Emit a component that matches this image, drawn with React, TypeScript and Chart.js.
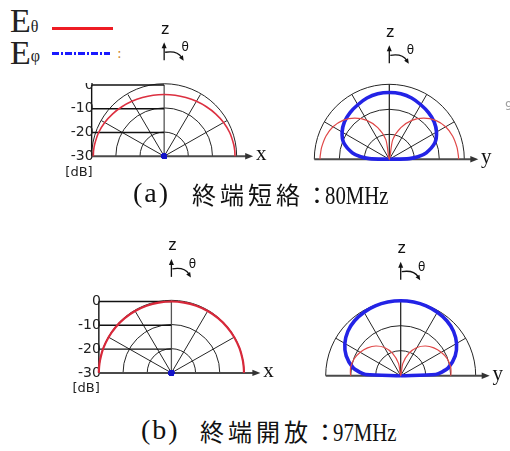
import React, { useEffect, useRef } from "react";
import { Chart, registerables } from "chart.js";

Chart.register(...registerables);

// ---------- DATA ----------
// angle measured from the +z axis (degrees); negative = toward -x / -y
const ANGLES = [-90, -88, -85, -80, -70, -60, -50, -40, -30, -20, -10, 0, 10, 20, 30, 40, 50, 60, 70, 80, 85, 88, 90];

// dB scale of the polar plots
const DB_MIN = -30;
const DB_MAX = 0;
const RING_DB = [-20, -10, 0];
const SPOKE_DEG = [-60, -30, 30, 60];
const DB_TICKS = [0, -10, -20, -30];
const DB_TICK_LABELS = ["0", "-10", "-20", "-30"];

// (a) 終端短絡 80MHz
const A_XZ_ETHETA = [-0.7, -0.7, -0.7, -0.8, -1.1, -1.6, -2.2, -2.8, -3.3, -3.7, -3.9, -4.0, -3.9, -3.7, -3.3, -2.8, -2.2, -1.6, -1.1, -0.8, -0.7, -0.7, -0.7];
const A_XZ_EPHI = [-30, -30, -30, -30, -30, -30, -30, -30, -30, -30, -30, -30, -30, -30, -30, -30, -30, -30, -30, -30, -30, -30, -30];
const A_YZ_ETHETA = [-2.3, -2.3, -2.4, -2.5, -3.0, -4.0, -5.8, -8.5, -12.0, -16.5, -22.0, -30, -22.0, -16.5, -12.0, -8.5, -5.8, -4.0, -3.0, -2.5, -2.4, -2.3, -2.3];
const A_YZ_EPHI = [-30, -22.0, -18.5, -15.0, -10.6, -8.2, -6.6, -5.6, -4.8, -3.9, -3.4, -3.3, -3.4, -3.9, -4.8, -5.6, -6.6, -8.2, -10.6, -15.0, -18.5, -22.0, -30];

// (b) 終端開放 97MHz
const B_XZ_ETHETA = [0, 0, 0, 0, 0, 0, 0, 0, 0, 0, 0, 0, 0, 0, 0, 0, 0, 0, 0, 0, 0, 0, 0];
const B_XZ_EPHI = [-30, -30, -30, -30, -30, -30, -30, -30, -30, -30, -30, -30, -30, -30, -30, -30, -30, -30, -30, -30, -30, -30, -30];
const B_YZ_ETHETA = [-10.0, -9.9, -9.8, -9.7, -10.2, -11.3, -12.7, -14.5, -17.0, -20.5, -25.0, -30, -25.0, -20.5, -17.0, -14.5, -12.7, -11.3, -10.2, -9.7, -9.8, -9.9, -10.0];
const B_YZ_EPHI = [-30, -16.0, -13.5, -10.5, -6.8, -4.2, -2.4, -1.3, -0.7, -0.3, -0.1, 0, -0.1, -0.3, -0.7, -1.3, -2.4, -4.2, -6.8, -10.5, -13.5, -16.0, -30];

// ---------- STYLE / LAYOUT ----------
const K = 2.5; // px per dB unit of radius
const BLUE = "#2323e6";
const GRID = "#262626";

const PANELS = [
  { key: "a-xz", left: 40, top: 18, width: 240, height: 160, cx: 164.3, cy: 159.3, axis: "x", scale: true, red: A_XZ_ETHETA, blue: A_XZ_EPHI, redWidth: 1.6, redColor: "#dc3040", dot: true },
  { key: "a-yz", left: 300, top: 18, width: 210, height: 160, cx: 389.3, cy: 159.3, axis: "y", scale: false, red: A_YZ_ETHETA, blue: A_YZ_EPHI, redWidth: 1.2, redColor: "#e04848", dot: false },
  { key: "b-xz", left: 40, top: 235, width: 245, height: 165, cx: 171.7, cy: 375.7, axis: "x", scale: true, red: B_XZ_ETHETA, blue: B_XZ_EPHI, redWidth: 2.2, redColor: "#d8283a", dot: true },
  { key: "b-yz", left: 310, top: 235, width: 200, height: 165, cx: 400.7, cy: 375.7, axis: "y", scale: false, red: B_YZ_ETHETA, blue: B_YZ_EPHI, redWidth: 1.2, redColor: "#e04848", dot: false },
];

function arrowHead(ctx: CanvasRenderingContext2D, x: number, y: number, ang: number, len: number, half: number) {
  ctx.beginPath();
  ctx.moveTo(x, y);
  ctx.lineTo(x - len * Math.cos(ang) + half * Math.sin(ang), y - len * Math.sin(ang) - half * Math.cos(ang));
  ctx.lineTo(x - len * Math.cos(ang) - half * Math.sin(ang), y - len * Math.sin(ang) + half * Math.cos(ang));
  ctx.closePath();
  ctx.fill();
}

const polarGrid = {
  id: "polarGrid",
  beforeDatasetsDraw(chart: any, _args: any, opts: any) {
    const ctx: CanvasRenderingContext2D = chart.ctx;
    const xs = chart.scales.x;
    const ys = chart.scales.y;
    const X = (v: number) => xs.getPixelForValue(v);
    const Y = (v: number) => ys.getPixelForValue(v);
    const span = DB_MAX - DB_MIN;
    const cx = X(0);
    const cy = Y(0);
    ctx.save();

    // rings
    ctx.strokeStyle = GRID;
    ctx.lineWidth = 1;
    for (const db of RING_DB) {
      const r = X(db - DB_MIN) - cx;
      ctx.beginPath();
      ctx.arc(cx, cy, r, Math.PI, 2 * Math.PI);
      ctx.stroke();
    }
    // spokes
    for (const a of SPOKE_DEG) {
      const t = (a * Math.PI) / 180;
      ctx.beginPath();
      ctx.moveTo(cx, cy);
      ctx.lineTo(X(span * Math.sin(t)), Y(span * Math.cos(t)));
      ctx.stroke();
    }
    // z axis inside plot
    ctx.strokeStyle = opts.scale ? "#555" : "#1a1a1a";
    ctx.lineWidth = opts.scale ? 1.3 : 1.2;
    ctx.beginPath();
    ctx.moveTo(cx, cy);
    ctx.lineTo(cx, Y(span));
    ctx.stroke();

    // dB scale
    if (opts.scale) {
      ctx.strokeStyle = "#111";
      ctx.lineWidth = 1.4;
      ctx.beginPath();
      ctx.moveTo(X(-span), cy);
      ctx.lineTo(X(-span), Y(span));
      ctx.stroke();
      for (const db of RING_DB) {
        const yy = Y(db - DB_MIN);
        ctx.beginPath();
        ctx.moveTo(X(-span), yy);
        ctx.lineTo(cx, yy);
        ctx.stroke();
      }
      ctx.fillStyle = "#222";
      ctx.font = '14px "DejaVu Sans"';
      ctx.textAlign = "right";
      ctx.textBaseline = "middle";
      DB_TICKS.forEach((db, i) => ctx.fillText(DB_TICK_LABELS[i], X(-span) + 2, Y(db - DB_MIN)));
      ctx.font = '13px "DejaVu Sans"';
      ctx.fillText("[dB]", X(-span) + 1, cy + 16);
    }

    // horizontal axis with arrow
    ctx.strokeStyle = "#4a4a4a";
    ctx.fillStyle = "#333";
    ctx.lineWidth = 2;
    const xEnd = cx + 89;
    ctx.beginPath();
    ctx.moveTo(X(-span), cy);
    ctx.lineTo(xEnd - 4, cy);
    ctx.stroke();
    arrowHead(ctx, xEnd, cy, 0, 8, 3.2);
    ctx.fillStyle = "#111";
    ctx.font = '21px "Liberation Serif"';
    ctx.textAlign = "center";
    ctx.textBaseline = "alphabetic";
    ctx.fillText(opts.axis, cx + 97, cy + 4);

    // z label and theta arrow
    ctx.font = '17px "Liberation Sans"';
    ctx.fillText("z", cx + 1, cy - 122.5);
    ctx.strokeStyle = "#111";
    ctx.lineWidth = 1.3;
    ctx.beginPath();
    ctx.moveTo(cx, cy - 96);
    ctx.lineTo(cx, cy - 110);
    ctx.stroke();
    arrowHead(ctx, cx, cy - 114, -Math.PI / 2, 6, 2.5);
    ctx.beginPath();
    ctx.moveTo(cx + 1, cy - 104);
    ctx.quadraticCurveTo(cx + 13, cy - 106, cx + 17.5, cy - 99);
    ctx.stroke();
    arrowHead(ctx, cx + 19.5, cy - 95.5, Math.atan2(7, 4.5), 5, 2.3);
    ctx.font = '12px "DejaVu Sans"';
    ctx.textBaseline = "middle";
    ctx.fillText("θ", cx + 21, cy - 108);

    ctx.restore();
  },
};

function toXY(vals: number[]) {
  return ANGLES.map((a, i) => {
    const r = Math.max(0, vals[i] - DB_MIN);
    const t = (a * Math.PI) / 180;
    return { x: r * Math.sin(t), y: r * Math.cos(t) };
  });
}

function Panel({ cfg }: { cfg: any }) {
  const ref = useRef<HTMLCanvasElement>(null);
  useEffect(() => {
    const c = ref.current;
    if (!c) return;
    const xmin = -(cfg.cx - cfg.left) / K;
    const xmax = (cfg.left + cfg.width - cfg.cx) / K;
    const ymax = (cfg.cy - cfg.top) / K;
    const ymin = -(cfg.top + cfg.height - cfg.cy) / K;
    const chart = new Chart(c, {
      type: "scatter",
      data: {
        datasets: [
          {
            label: "Eθ",
            data: toXY(cfg.red),
            showLine: true,
            borderColor: cfg.redColor,
            borderWidth: cfg.redWidth,
            pointRadius: 0,
            tension: 0.3,
            fill: false,
          },
          {
            label: "Eφ",
            data: toXY(cfg.blue),
            showLine: true,
            borderColor: BLUE,
            borderWidth: 3.6,
            pointRadius: cfg.dot ? 2.8 : 0,
            pointBackgroundColor: "#1414c8",
            pointBorderWidth: 0,
            tension: 0.3,
            fill: false,
          },
        ],
      },
      options: {
        responsive: false,
        maintainAspectRatio: false,
        animation: false,
        layout: { padding: 0 },
        events: [],
        scales: {
          x: { type: "linear", min: xmin, max: xmax, display: false },
          y: { type: "linear", min: ymin, max: ymax, display: false },
        },
        plugins: {
          legend: { display: false },
          tooltip: { enabled: false },
          polarGrid: { axis: cfg.axis, scale: cfg.scale },
        } as any,
      },
      plugins: [polarGrid],
    });
    return () => chart.destroy();
  }, []);
  return (
    <canvas
      ref={ref}
      width={cfg.width}
      height={cfg.height}
      style={{ position: "absolute", left: cfg.left, top: cfg.top, width: cfg.width, height: cfg.height }}
    />
  );
}

function Caption({ dx, dy, tag, jp, freq }: { dx: number; dy: number; tag: string; jp: string; freq: string }) {
  return (
    <>
      <div style={{ position: "absolute", left: 133 + dx, top: 179 + dy, font: '28px "Liberation Serif"', lineHeight: "28px", letterSpacing: "2px", whiteSpace: "nowrap", color: "#111" }}>{tag}</div>
      <div style={{ position: "absolute", left: 192 + dx, top: 182 + dy, font: '24px "Noto Sans CJK JP"', lineHeight: "24px", letterSpacing: "4px", whiteSpace: "nowrap", color: "#111" }}>{jp}</div>
      <div style={{ position: "absolute", left: 305 + dx, top: 182 + dy, font: '24px "Noto Sans CJK JP"', lineHeight: "24px", whiteSpace: "nowrap", color: "#111" }}>：</div>
      <div style={{ position: "absolute", left: 325 + dx, top: 183 + dy, font: '26px "Liberation Serif"', lineHeight: "26px", whiteSpace: "nowrap", color: "#111", transform: "scaleX(0.8)", transformOrigin: "left top" }}>{freq}</div>
    </>
  );
}

export default function App() {
  return (
    <div style={{ position: "fixed", left: 0, top: 0, width: 510, height: 451, background: "#fff", overflow: "hidden" }}>
      {PANELS.map((p) => (
        <Panel key={p.key} cfg={p} />
      ))}
      {/* legend box */}
      <div style={{ position: "absolute", left: 0, top: 0, width: 122, height: 83, background: "#fff" }}>
        <div style={{ position: "absolute", left: 10, top: 4, lineHeight: "34px", whiteSpace: "nowrap", fontFamily: '"Liberation Serif"', color: "#222" }}>
          <span style={{ fontSize: 34 }}>E</span>
          <span style={{ fontSize: 16 }}>θ</span>
        </div>
        <div style={{ position: "absolute", left: 52, top: 27, width: 61, height: 3, background: "#ee1c24" }} />
        <div style={{ position: "absolute", left: 10, top: 36, lineHeight: "34px", whiteSpace: "nowrap", fontFamily: '"Liberation Serif"', color: "#222" }}>
          <span style={{ fontSize: 34 }}>E</span>
          <span style={{ fontSize: 16, position: "relative", top: -3 }}>φ</span>
        </div>
        <div
          style={{
            position: "absolute",
            left: 52,
            top: 52,
            width: 58,
            height: 3,
            background: "repeating-linear-gradient(to right, #1a1aff 0px, #1a1aff 7px, transparent 7px, transparent 9px, #1a1aff 9px, #1a1aff 11px, transparent 11px, transparent 13px)",
          }}
        />
        <div style={{ position: "absolute", left: 117, top: 45, font: '14px "DejaVu Sans"', color: "#d08a30" }}>:</div>
      </div>
      <div style={{ position: "absolute", left: 505, top: 99, font: '12px "DejaVu Sans"', color: "#a0a0a0" }}>9</div>
      <Caption dx={0} dy={0} tag="(a)" jp="終端短絡" freq="80MHz" />
      <Caption dx={8} dy={237} tag="(b)" jp="終端開放" freq="97MHz" />
    </div>
  );
}
